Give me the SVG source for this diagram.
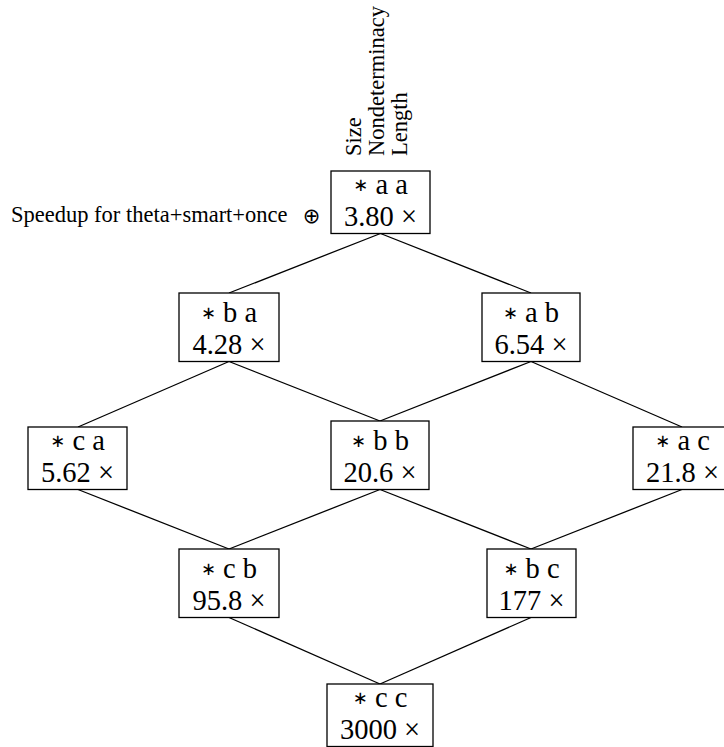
<svg xmlns="http://www.w3.org/2000/svg" width="724" height="747" viewBox="0 0 724 747">
<style>
.box{fill:#fff;stroke:#000;stroke-width:1.3}
.edge{stroke:#000;stroke-width:1.3;fill:none}
.t{font-family:'Liberation Serif','Times New Roman',serif;font-size:28.5px;fill:#000;text-anchor:middle}
.ast{font-family:'DejaVu Sans',sans-serif;font-size:18px}
.lab{font-family:'Liberation Serif','Times New Roman',serif;font-size:22.5px;fill:#000}
.op{font-family:'DejaVu Sans',sans-serif;font-size:21px;fill:#000;text-anchor:middle}
</style>
<rect width="724" height="747" fill="#fff"/>
<g id="connectors">
<line class="edge" x1="380.5" y1="233.5" x2="229" y2="293"/>
<line class="edge" x1="380.5" y1="233.5" x2="531" y2="293"/>
<line class="edge" x1="229" y1="361.5" x2="78" y2="427"/>
<line class="edge" x1="229" y1="361.5" x2="380" y2="421"/>
<line class="edge" x1="531" y1="361.5" x2="380" y2="421"/>
<line class="edge" x1="531" y1="361.5" x2="682" y2="427"/>
<line class="edge" x1="78" y1="489.5" x2="229" y2="549"/>
<line class="edge" x1="380" y1="489.5" x2="229" y2="549"/>
<line class="edge" x1="380" y1="489.5" x2="531" y2="549"/>
<line class="edge" x1="682" y1="489.5" x2="531" y2="549"/>
<line class="edge" x1="229" y1="617.5" x2="380" y2="684"/>
<line class="edge" x1="531" y1="617.5" x2="380" y2="684"/>
</g>
<g id="header">
<text class="lab" transform="translate(361,156) rotate(-90)">Size</text>
<text class="lab" transform="translate(384,156) rotate(-90)">Nondeterminacy</text>
<text class="lab" transform="translate(407,156) rotate(-90)">Length</text>
</g>
<g id="legend">
<text class="lab" x="11" y="222">Speedup for theta+smart+once <tspan class="op" x="311.5" dy="1">⊕</tspan></text>
</g>
<g id="n-aa">
<rect class="box" x="331" y="171" width="99" height="62.5"/>
<text class="t" x="380.5" y="193.5"><tspan class="ast" dy="-3">∗</tspan><tspan dy="3"> a a</tspan><tspan x="380.5" dy="32">3.80 ×</tspan></text>
</g>
<g id="n-ba">
<rect class="box" x="179" y="293" width="100" height="68.5"/>
<text class="t" x="229" y="321.5"><tspan class="ast" dy="-3">∗</tspan><tspan dy="3"> b a</tspan><tspan x="229" dy="32">4.28 ×</tspan></text>
</g>
<g id="n-ab">
<rect class="box" x="482" y="293" width="98" height="68.5"/>
<text class="t" x="531" y="321.5"><tspan class="ast" dy="-3">∗</tspan><tspan dy="3"> a b</tspan><tspan x="531" dy="32">6.54 ×</tspan></text>
</g>
<g id="n-ca">
<rect class="box" x="28" y="427" width="99" height="62.5"/>
<text class="t" x="77.5" y="449.5"><tspan class="ast" dy="-3">∗</tspan><tspan dy="3"> c a</tspan><tspan x="77.5" dy="32">5.62 ×</tspan></text>
</g>
<g id="n-bb">
<rect class="box" x="331" y="421" width="98" height="68.5"/>
<text class="t" x="380" y="449.5"><tspan class="ast" dy="-3">∗</tspan><tspan dy="3"> b b</tspan><tspan x="380" dy="32">20.6 ×</tspan></text>
</g>
<g id="n-ac">
<rect class="box" x="633" y="427" width="99" height="62.5"/>
<text class="t" x="682.5" y="449.5"><tspan class="ast" dy="-3">∗</tspan><tspan dy="3"> a c</tspan><tspan x="682.5" dy="32">21.8 ×</tspan></text>
</g>
<g id="n-cb">
<rect class="box" x="179" y="549" width="100" height="68.5"/>
<text class="t" x="229" y="577.5"><tspan class="ast" dy="-3">∗</tspan><tspan dy="3"> c b</tspan><tspan x="229" dy="32">95.8 ×</tspan></text>
</g>
<g id="n-bc">
<rect class="box" x="487" y="549" width="89" height="68.5"/>
<text class="t" x="531.5" y="577.5"><tspan class="ast" dy="-3">∗</tspan><tspan dy="3"> b c</tspan><tspan x="531.5" dy="32">177 ×</tspan></text>
</g>
<g id="n-cc">
<rect class="box" x="327" y="684" width="106" height="62.5"/>
<text class="t" x="380" y="706.5"><tspan class="ast" dy="-3">∗</tspan><tspan dy="3"> c c</tspan><tspan x="380" dy="32">3000 ×</tspan></text>
</g>
</svg>
